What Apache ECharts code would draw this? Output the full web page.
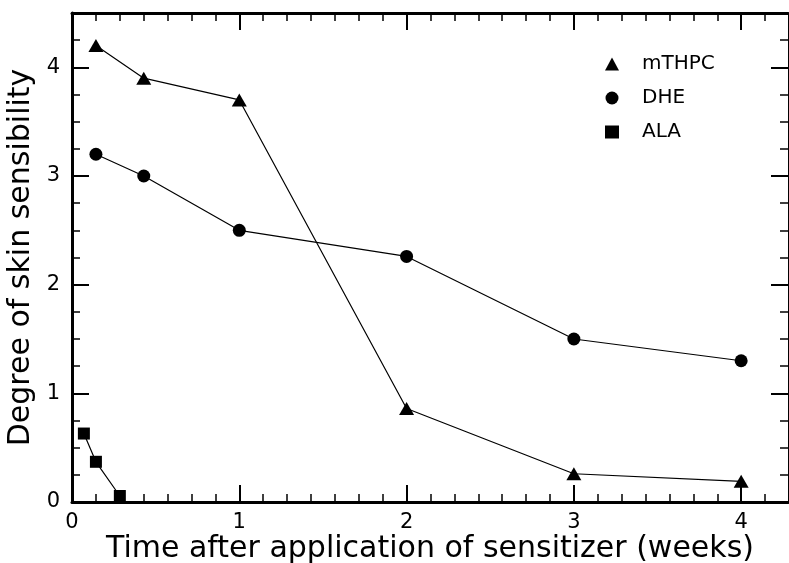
<!DOCTYPE html>
<html>
<head>
<meta charset="utf-8">
<script src="https://cdn.jsdelivr.net/npm/echarts@6/dist/echarts.min.js"></script>
<style>
  html, body { margin: 0; padding: 0; background: #fff; }
  #chart { width: 789px; height: 563px; }
</style>
</head>
<body>
<div id="chart"></div>
<script>
// ---- Data (time in weeks, degree of skin sensibility) ----
const mthpcX = [0.143, 0.429, 1, 2, 3, 4];
const mthpcY = [4.2, 3.9, 3.7, 0.86, 0.26, 0.19];

const dheX = [0.143, 0.429, 1, 2, 3, 4];
const dheY = [3.2, 3.0, 2.5, 2.26, 1.5, 1.3];

const alaX = [0.071, 0.143, 0.286];
const alaY = [0.63, 0.37, 0.055];

const seriesNames = ['mTHPC', 'DHE', 'ALA'];

// ---- Axis ticks / labels ----
const xLabels = [0, 1, 2, 3, 4];                    // weeks
const xMinorTicks = [];                               // one tick per day
for (let d = 0; d <= 29; d++) xMinorTicks.push(d / 7);
const yLabels = [0, 1, 2, 3, 4];
const yMinorTicks = [0, 0.25, 0.5, 0.75, 1, 1.25, 1.5, 1.75, 2, 2.25, 2.5, 2.75, 3, 3.25, 3.5, 3.75, 4, 4.25, 4.5];

const xTitle = 'Time after application of sensitizer (weeks)';
const yTitle = 'Degree of skin sensibility';

const FONT = 'DejaVu Sans';
const X_MIN = 0, X_MAX = 4.28, Y_MIN = 0, Y_MAX = 4.5;

function pairs(xs, ys) { return xs.map((x, i) => [x, ys[i]]); }

function xAx(position, lineWidth, showLine, ticks, tickLen, tickW, labels, extra) {
  return Object.assign({
    type: 'value', position: position, min: X_MIN, max: X_MAX,
    axisLine: { show: showLine, onZero: false, lineStyle: { color: '#000', width: lineWidth } },
    axisTick: { show: true, inside: true, length: tickLen, customValues: ticks, lineStyle: { color: '#000', width: tickW } },
    axisLabel: labels ? { show: true, customValues: labels, color: '#000', fontFamily: FONT, fontSize: 21, margin: 10 } : { show: false },
    splitLine: { show: false }
  }, extra || {});
}
function yAx(position, lineWidth, showLine, ticks, tickLen, tickW, labels, extra) {
  return Object.assign({
    type: 'value', position: position, min: Y_MIN, max: Y_MAX,
    axisLine: { show: showLine, onZero: false, lineStyle: { color: '#000', width: lineWidth } },
    axisTick: { show: true, inside: true, length: tickLen, customValues: ticks, lineStyle: { color: '#000', width: tickW } },
    axisLabel: labels ? { show: true, customValues: labels, color: '#000', fontFamily: FONT, fontSize: 21, margin: 12 } : { show: false },
    splitLine: { show: false }
  }, extra || {});
}

const chart = echarts.init(document.getElementById('chart'), null, { renderer: 'canvas' });

const lineStyle = { color: '#000', width: 1.2 };
const itemStyle = { color: '#000' };

chart.setOption({
  animation: false,
  backgroundColor: '#fff',
  grid: { left: 72, right: 1, top: 13, bottom: 61, containLabel: false, outerBoundsMode: 'none' },
  xAxis: [
    xAx('bottom', 3, true, xMinorTicks, 8, 1.5, xLabels, {
      name: xTitle, nameLocation: 'middle', nameGap: 32, nameMoveOverlap: false,
      nameTextStyle: { color: '#000', fontFamily: FONT, fontSize: 30 }
    }),
    xAx('bottom', 1, false, xLabels, 17, 2, null),
    xAx('top', 3, true, xMinorTicks, 8, 1.5, null),
    xAx('top', 1, false, xLabels, 17, 2, null)
  ],
  yAxis: [
    yAx('left', 3, true, yMinorTicks, 8, 1.5, yLabels, {
      name: yTitle, nameLocation: 'middle', nameGap: 36, nameMoveOverlap: false,
      nameTextStyle: { color: '#000', fontFamily: FONT, fontSize: 30 }
    }),
    yAx('left', 1, false, yLabels, 17, 2, null),
    yAx('right', 1, true, yMinorTicks, 8, 1.5, null),
    yAx('right', 1, false, yLabels, 17, 2, null)
  ],
  legend: {
    orient: 'vertical', left: 600, top: 49,
    itemWidth: 14, itemHeight: 13, itemGap: 14,
    textStyle: { color: '#000', fontFamily: FONT, fontSize: 20, padding: [0, 0, 0, 18] },
    data: [
      { name: seriesNames[0], icon: 'triangle' },
      { name: seriesNames[1], icon: 'circle' },
      { name: seriesNames[2], icon: 'rect' }
    ]
  },
  series: [
    { name: seriesNames[0], type: 'line', data: pairs(mthpcX, mthpcY), symbol: 'triangle', symbolSize: [15, 13],
      lineStyle: lineStyle, itemStyle: itemStyle, xAxisIndex: 0, yAxisIndex: 0 },
    { name: seriesNames[1], type: 'line', data: pairs(dheX, dheY), symbol: 'circle', symbolSize: 13,
      lineStyle: lineStyle, itemStyle: itemStyle, xAxisIndex: 0, yAxisIndex: 0 },
    { name: seriesNames[2], type: 'line', data: pairs(alaX, alaY), symbol: 'rect', symbolSize: 12,
      lineStyle: lineStyle, itemStyle: itemStyle, xAxisIndex: 0, yAxisIndex: 0 }
  ]
});
</script>
</body>
</html>
